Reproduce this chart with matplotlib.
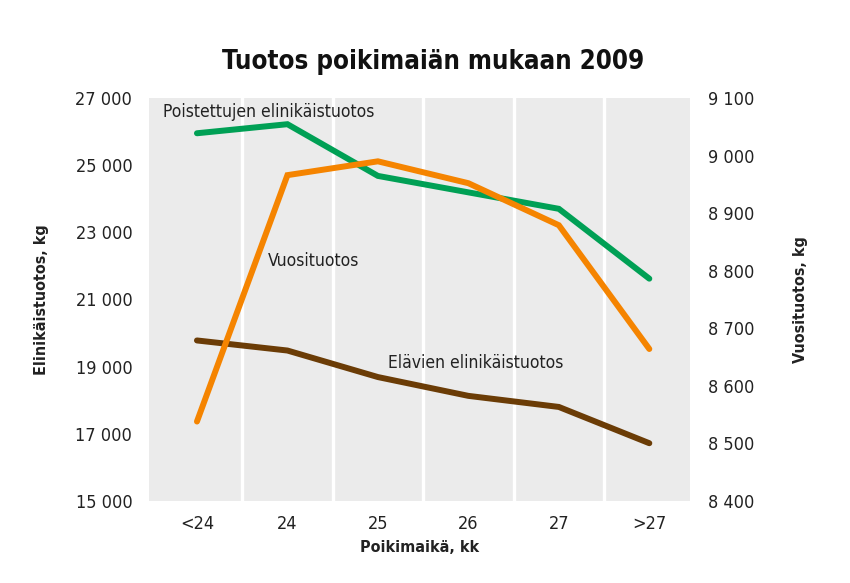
import matplotlib
matplotlib.use("Agg")
import matplotlib.pyplot as plt
import numpy as np
from matplotlib.ticker import FuncFormatter, FixedLocator

plt.rcParams['font.family'] = ['DejaVu Sans']
plt.rcParams['font.stretch'] = 'condensed'

categories = ['<24', '24', '25', '26', '27', '>27']
poistettujen = [25950, 26220, 24680, 24190, 23700, 21620]
elavien = [19780, 19480, 18690, 18130, 17800, 16720]
vuosituotos = [8538, 8966, 8990, 8952, 8879, 8664]

left_ticks = [15000, 17000, 19000, 21000, 23000, 25000, 27000]
right_ticks = [8400, 8500, 8600, 8700, 8800, 8900, 9000, 9100]

title = 'Tuotos poikimaiän mukaan 2009'
xlabel = 'Poikimaikä, kk'
ylabel_left = 'Elinikäistuotos, kg'
ylabel_right = 'Vuosituotos, kg'

GREEN = '#00a055'
ORANGE = '#f58400'
BROWN = '#6b3c06'
BG = '#ebebeb'
TXT = '#222222'

fig = plt.figure(figsize=(8.5, 5.83), dpi=100)
ax = fig.add_axes([0.1753, 0.1407, 0.6365, 0.6912])
ax.set_facecolor(BG)
x = np.arange(len(categories))

ax.set_xlim(-0.53, len(categories) - 1 + 0.45)
ax.set_ylim(left_ticks[0], left_ticks[-1])

ax.xaxis.set_minor_locator(FixedLocator(x[:-1] + 0.5))
ax.grid(which='minor', axis='x', color='white', linewidth=2.4)
ax.set_axisbelow(True)

fmt = FuncFormatter(lambda v, p: f"{int(v):,}".replace(',', ' '))

ax.plot(x, poistettujen, color=GREEN, lw=4.3, solid_capstyle='round', solid_joinstyle='miter', zorder=3)
ax.plot(x, elavien, color=BROWN, lw=4.3, solid_capstyle='round', solid_joinstyle='miter', zorder=3)

ax2 = ax.twinx()
ax2.set_ylim(right_ticks[0], right_ticks[-1])
ax2.plot(x, vuosituotos, color=ORANGE, lw=4.3, solid_capstyle='round', solid_joinstyle='miter', zorder=2)

ax.set_xticks(x)
ax.set_xticklabels(categories)
ax.set_yticks(left_ticks)
ax.yaxis.set_major_formatter(fmt)
ax2.set_yticks(right_ticks)
ax2.yaxis.set_major_formatter(fmt)

for a in (ax, ax2):
    for s in a.spines.values():
        s.set_visible(False)
    a.tick_params(which='both', length=0, labelsize=13, colors=TXT)
ax.tick_params(axis='x', pad=10)
ax.tick_params(axis='y', pad=12)
ax2.tick_params(axis='y', pad=13)

ax.set_xlabel(xlabel, fontsize=11.5, fontweight='bold', color=TXT, labelpad=5)
ax.set_ylabel(ylabel_left, fontsize=11.5, fontweight='bold', color=TXT, labelpad=19)
ax2.set_ylabel(ylabel_right, fontsize=11.5, fontweight='bold', color=TXT, labelpad=28, rotation=90)

ax.text(-0.38, 26591, 'Poistettujen elinikäistuotos', fontsize=12.5, color=TXT, va='center', ha='left', zorder=4)
ax.text(0.785, 22143, 'Vuosituotos', fontsize=12.5, color=TXT, va='center', ha='left', zorder=4)
ax.text(2.11, 19119, 'Elävien elinikäistuotos', fontsize=12.5, color=TXT, va='center', ha='left', zorder=4)

fig.text(0.509, 0.894, title, fontsize=18.5, fontweight='bold', color='#111111', ha='center', va='center')

fig.savefig('out.png', dpi=100)
